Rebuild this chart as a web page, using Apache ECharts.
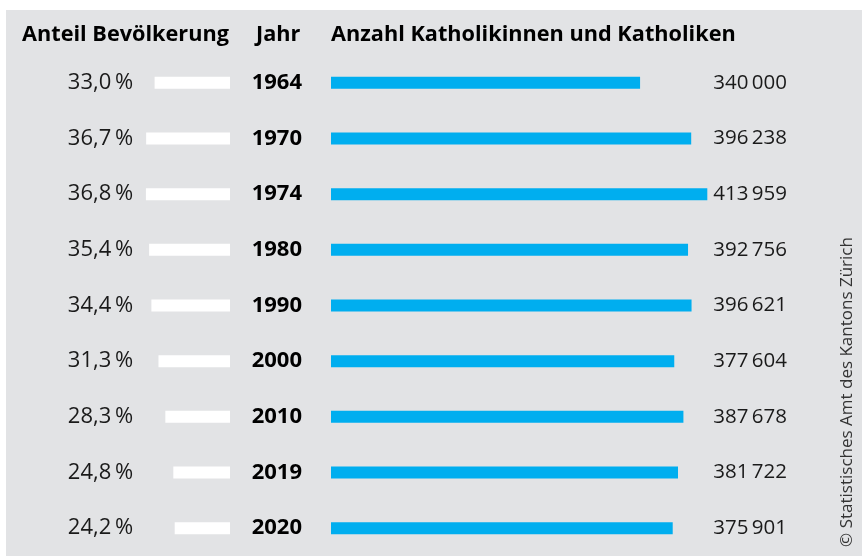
<!DOCTYPE html>
<html><head><meta charset="utf-8">
<script src="https://cdn.jsdelivr.net/npm/echarts@6/dist/echarts.min.js"></script>
<style>html,body{margin:0;padding:0;background:#fff}#c{width:862px;height:556px}</style>
</head><body><div id="c"></div>
<script>
const years = ['1964','1970','1974','1980','1990','2000','2010','2019','2020'];
const shareLabels = ['33,0\u2009%','36,7\u2009%','36,8\u2009%','35,4\u2009%','34,4\u2009%','31,3\u2009%','28,3\u2009%','24,8\u2009%','24,2\u2009%'];
const share = [33.0,36.7,36.8,35.4,34.4,31.3,28.3,24.8,24.2];
const catholics = [340000,396238,413959,392756,396621,377604,387678,381722,375901];
const catholicLabels = ['340\u2009000','396\u2009238','413\u2009959','392\u2009756','396\u2009621','377\u2009604','387\u2009678','381\u2009722','375\u2009901'];
const headers = ['Anteil Bevölkerung','Jahr','Anzahl Katholikinnen und Katholiken'];
const source = '© Statistisches Amt des Kantons Zürich';

const FONT = 'Open Sans';
const chart = echarts.init(document.getElementById('c'), null, {renderer:'canvas'});
const top0 = 55, h = 503;
const hdrStyle = {fontFamily:FONT, fontSize:21.7, fontWeight:'bold', fill:'#000'};
chart.setOption({
  backgroundColor:'#fff',
  animation:false,
  graphic:[
    {type:'rect', shape:{x:6,y:10,width:856,height:546}, style:{fill:'#e2e3e5'}, z:-10},
    {type:'text', x:22, y:35, style:Object.assign({text:headers[0], verticalAlign:'middle'}, hdrStyle)},
    {type:'text', x:256, y:35, style:Object.assign({text:headers[1], verticalAlign:'middle'}, hdrStyle)},
    {type:'text', x:331, y:35, style:Object.assign({text:headers[2], verticalAlign:'middle'}, hdrStyle)},
    {type:'text', x:847, y:392, rotation:Math.PI/2,
     style:{text:source, align:'center', verticalAlign:'middle', fontFamily:FONT, fontSize:17, fill:'#333'}}
  ],
  grid:[
    {left:138.6, width:91.4, top:top0, height:h},
    {left:331, width:381.8, top:top0, height:h}
  ],
  xAxis:[
    {gridIndex:0, type:'value', min:0, max:40, inverse:true, show:false},
    {gridIndex:1, type:'value', min:0, max:420000, show:false}
  ],
  yAxis:[
    {gridIndex:0, type:'category', data:shareLabels, inverse:true, position:'left',
     axisLine:{show:false}, axisTick:{show:false}, splitLine:{show:false},
     axisLabel:{margin:5.5, fontFamily:FONT, fontSize:22, color:'#1a1a1a'}},
    {gridIndex:1, type:'category', data:years, inverse:true, position:'left',
     axisLine:{show:false}, axisTick:{show:false}, splitLine:{show:false},
     axisLabel:{margin:29, fontFamily:FONT, fontSize:22, fontWeight:'bold', color:'#000'}},
    {gridIndex:1, type:'category', data:catholicLabels, inverse:true, position:'right',
     axisLine:{show:false}, axisTick:{show:false}, splitLine:{show:false},
     axisLabel:{margin:0.5, fontFamily:FONT, fontSize:20.5, color:'#1a1a1a'}}
  ],
  series:[
    {type:'bar', xAxisIndex:0, yAxisIndex:0, data:share, barWidth:12, itemStyle:{color:'#ffffff'}, silent:true},
    {type:'bar', xAxisIndex:1, yAxisIndex:1, data:catholics, barWidth:12, itemStyle:{color:'#00aeef'}, silent:true}
  ]
});
</script></body></html>
